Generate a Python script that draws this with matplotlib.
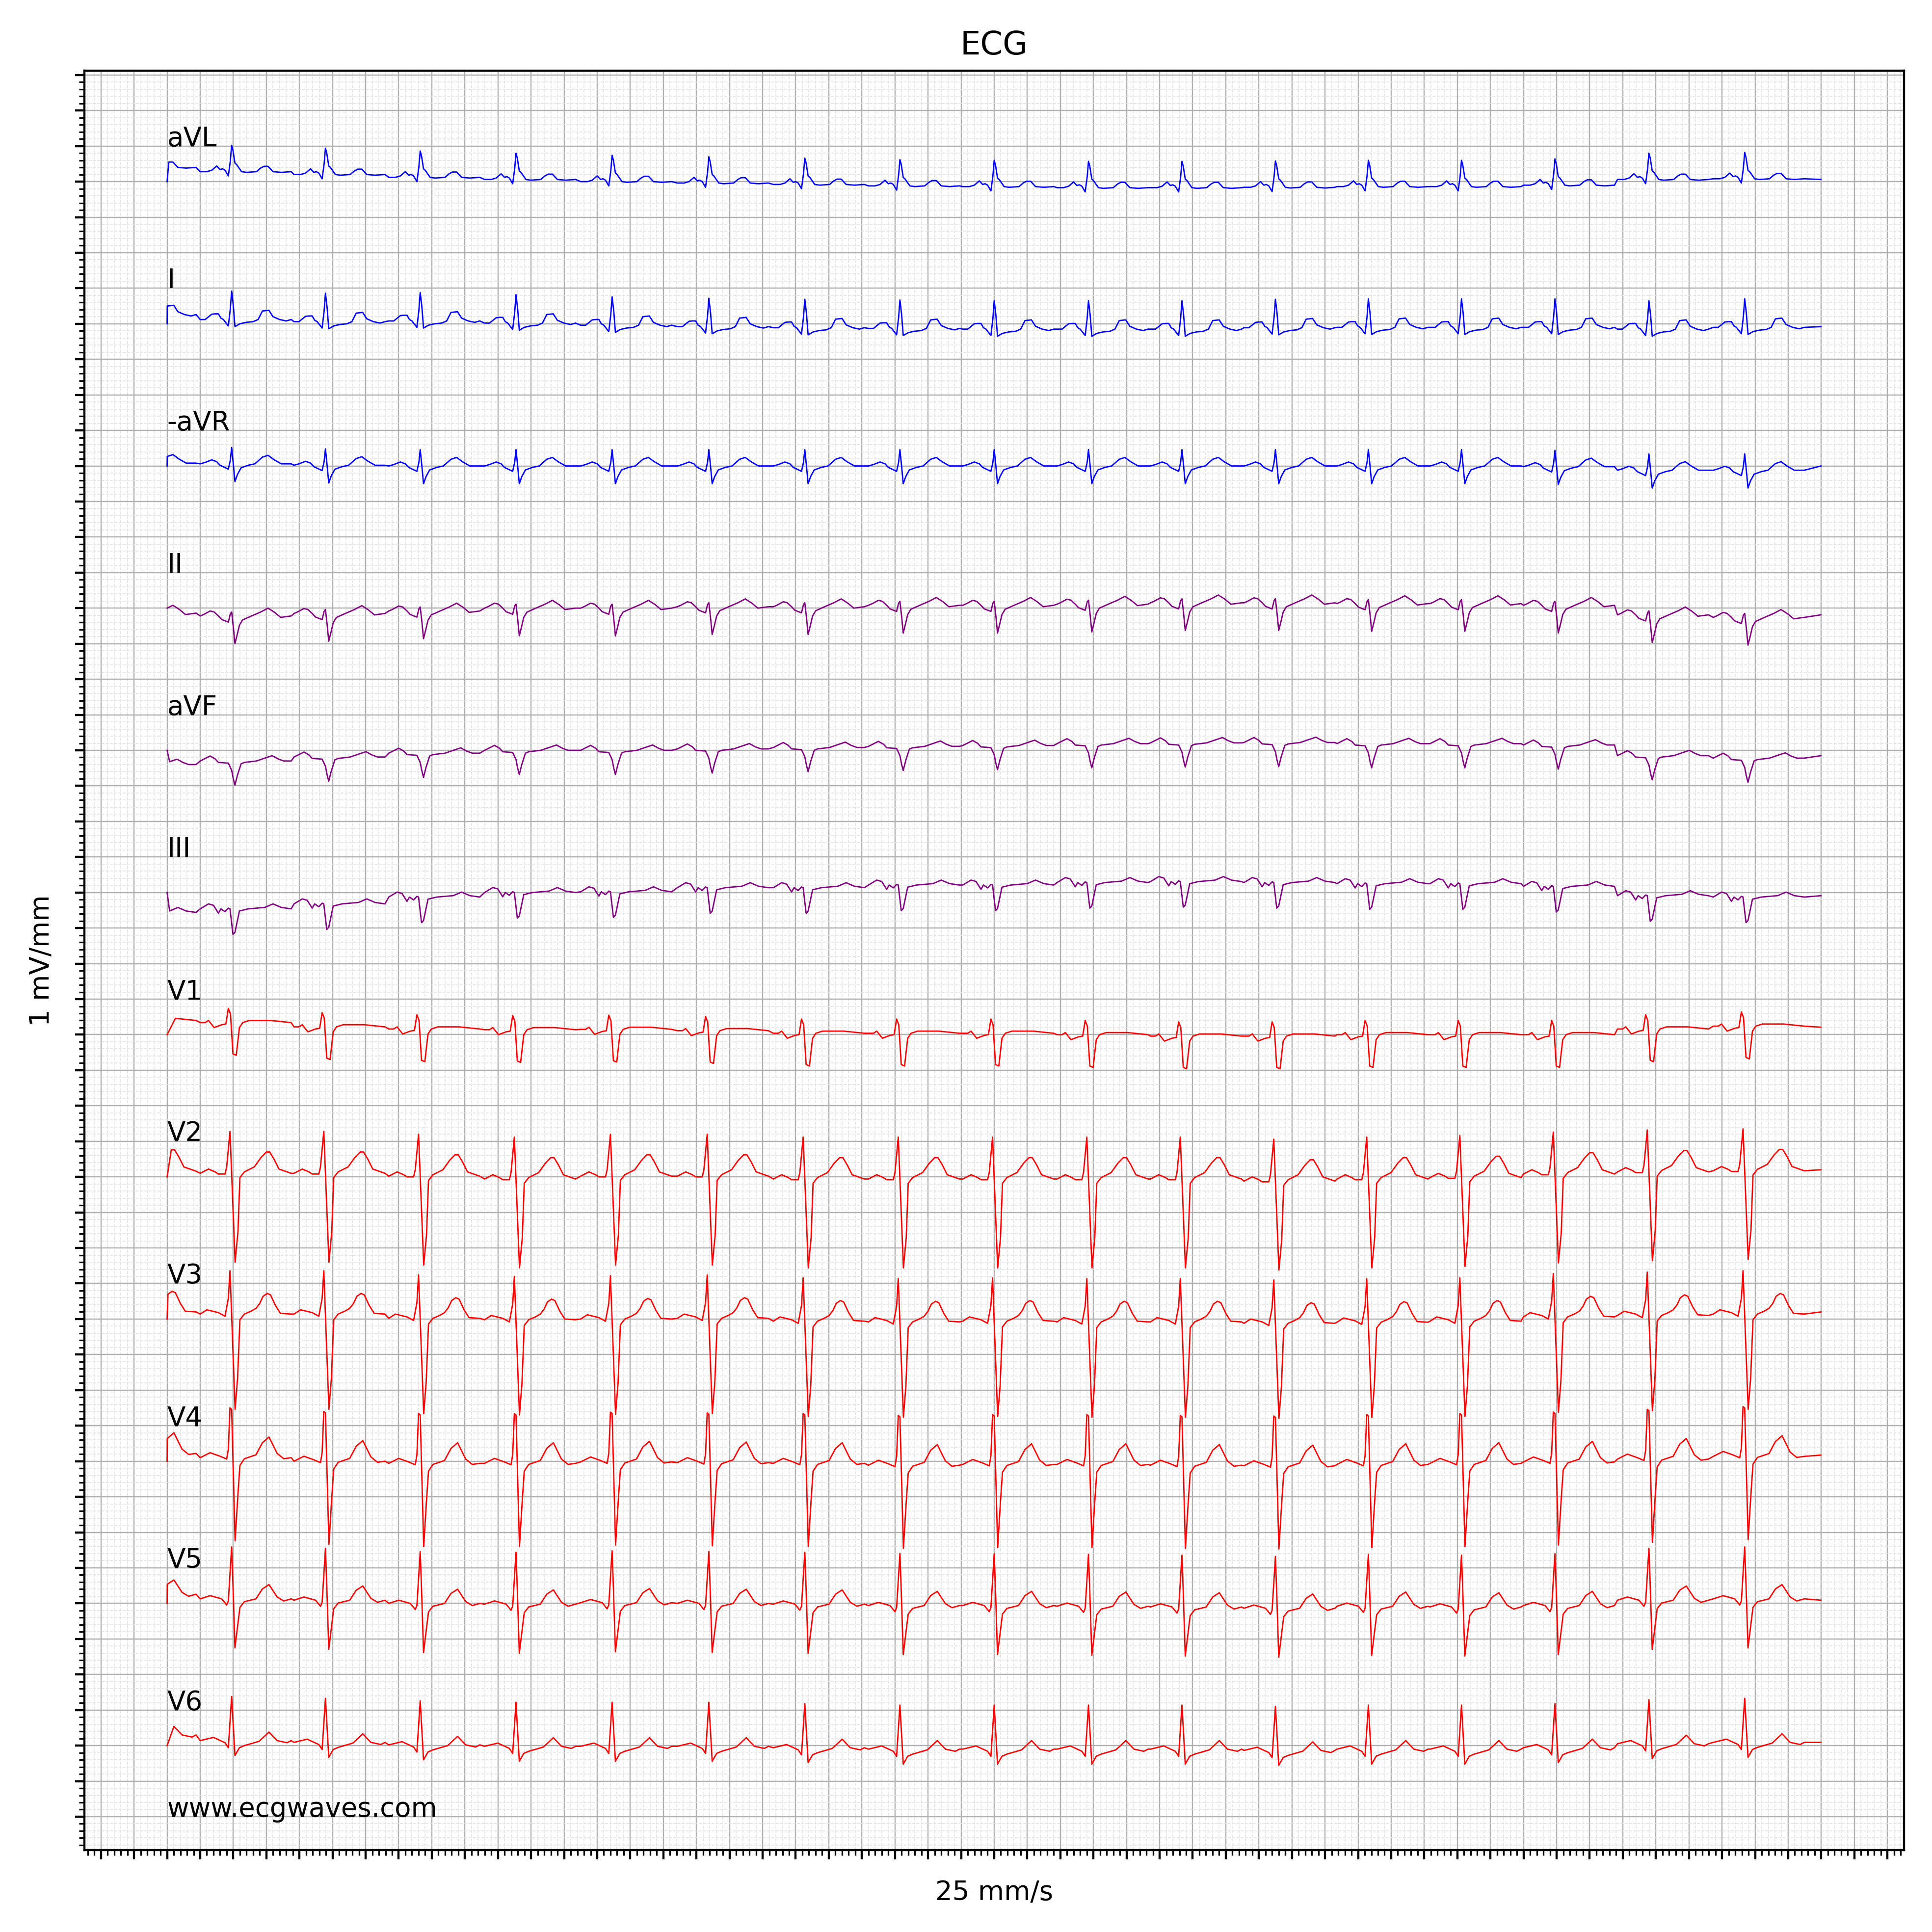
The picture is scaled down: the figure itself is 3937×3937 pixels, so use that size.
import numpy as np
import matplotlib.pyplot as plt
from matplotlib.ticker import MultipleLocator, NullFormatter

# R peak times in seconds (first beat is cut by the left edge)
r_times = [-0.185, 0.39, 0.957, 1.53, 2.109, 2.69, 3.275, 3.855, 4.43, 5.0,
           5.57, 6.135, 6.70, 7.262, 7.825, 8.39, 8.958, 9.537]
t_end = 9.998

lead_names = ['aVL', 'I', '-aVR', 'II', 'aVF', 'III',
              'V1', 'V2', 'V3', 'V4', 'V5', 'V6']
lead_colors = ['blue'] * 3 + ['purple'] * 3 + ['red'] * 6

# one beat per lead: (time from R peak [s], amplitude [mV])
beat_avl = [(-0.19, 0.0), (-0.15, 0.0), (-0.12, 0.02), (-0.09, 0.08), (-0.07, 0.03),
            (-0.055, 0.04), (-0.04, 0.02), (-0.02, -0.06), (-0.008, 0.15), (0.0, 0.37),
            (0.008, 0.30), (0.02, 0.12), (0.03, 0.10), (0.06, 0.0), (0.09, -0.01),
            (0.15, 0.0), (0.175, 0.05), (0.195, 0.075), (0.22, 0.075), (0.25, 0.0),
            (0.30, -0.01), (0.36, 0.0)]
beat_i = [(-0.19, 0.0), (-0.16, 0.0), (-0.12, 0.075), (-0.10, 0.08), (-0.08, 0.08),
          (-0.065, 0.02), (-0.05, 0.0), (-0.02, -0.09), (-0.008, 0.15), (0.0, 0.40),
          (0.01, 0.2), (0.02, -0.1), (0.05, -0.06), (0.087, -0.04), (0.13, -0.03),
          (0.16, 0.0), (0.186, 0.12), (0.225, 0.13), (0.25, 0.04), (0.29, 0.0),
          (0.33, -0.02), (0.36, 0.0)]
beat_mavr = [(-0.19, 0.0), (-0.16, 0.02), (-0.12, 0.056), (-0.09, 0.03), (-0.07, -0.02),
             (-0.02, -0.075), (-0.008, 0.05), (0.0, 0.23), (0.01, 0.0), (0.02, -0.25),
             (0.035, -0.15), (0.057, -0.056), (0.1, -0.02), (0.14, 0.0), (0.186, 0.094),
             (0.22, 0.12), (0.255, 0.06), (0.30, 0.0), (0.36, 0.0)]
beat_ii = [(-0.19, 0.0), (-0.17, 0.02), (-0.13, 0.07), (-0.106, 0.056), (-0.08, 0.0),
           (-0.06, -0.05), (-0.02, -0.086), (-0.008, 0.03), (0.0, 0.056), (0.01, -0.15),
           (0.02, -0.39), (0.035, -0.25), (0.047, -0.13), (0.066, -0.056), (0.12, 0.0),
           (0.176, 0.056), (0.22, 0.11), (0.26, 0.05), (0.296, -0.02), (0.36, 0.0)]
beat_avf = [(-0.19, 0.0), (-0.13, 0.07), (-0.10, 0.03), (-0.08, -0.02), (-0.02, -0.03),
            (0.0, -0.13), (0.01, -0.25), (0.02, -0.34), (0.035, -0.2), (0.057, -0.04),
            (0.077, -0.02), (0.15, 0.0), (0.2, 0.04), (0.245, 0.075), (0.28, 0.03),
            (0.315, 0.0), (0.36, 0.0)]
beat_iii = [(-0.19, 0.0), (-0.14, 0.07), (-0.11, 0.05), (-0.08, -0.06), (-0.065, 0.0),
            (-0.04, -0.04), (-0.02, 0.01), (-0.01, 0.0), (0.008, -0.36), (0.02, -0.33),
            (0.047, -0.03), (0.1, 0.0), (0.2, 0.02), (0.25, 0.07), (0.30, 0.02), (0.36, 0.0)]
beat_v1 = [(-0.19, 0.0), (-0.16, 0.0), (-0.14, 0.03), (-0.106, -0.07), (-0.06, -0.03),
           (-0.035, -0.02), (-0.02, 0.2), (-0.007, 0.12), (0.008, -0.44), (0.028, -0.46),
           (0.047, -0.07), (0.067, 0.0), (0.107, 0.03), (0.235, 0.03), (0.36, 0.0)]
beat_v2 = [(-0.19, 0.0), (-0.14, 0.06), (-0.10, 0.02), (-0.08, -0.01), (-0.04, -0.01),
           (-0.03, 0.09), (-0.01, 0.59), (0.021, -1.25), (0.038, -0.83), (0.05, -0.06),
           (0.077, 0.02), (0.137, 0.09), (0.177, 0.22), (0.21, 0.3), (0.23, 0.3),
           (0.256, 0.2), (0.286, 0.06), (0.335, 0.02), (0.36, 0.0)]
beat_v3 = [(-0.19, 0.0), (-0.15, 0.06), (-0.08, 0.02), (-0.04, -0.03), (-0.02, 0.22),
           (-0.01, 0.61), (0.021, -1.34), (0.036, -0.9), (0.05, -0.08), (0.077, 0.0),
           (0.117, 0.04), (0.147, 0.08), (0.17, 0.15), (0.19, 0.25), (0.215, 0.29),
           (0.235, 0.27), (0.265, 0.12), (0.295, 0.01), (0.36, 0.0)]
beat_v4 = [(-0.19, 0.0), (-0.13, 0.07), (-0.07, 0.02), (-0.03, -0.02), (-0.02, 0.12),
           (-0.01, 0.70), (0.0, 0.68), (0.021, -1.17), (0.038, -0.52), (0.05, -0.11),
           (0.077, -0.015), (0.147, 0.04), (0.186, 0.21), (0.226, 0.29), (0.275, 0.06),
           (0.315, -0.015), (0.36, 0.0)]
beat_v5 = [(-0.19, 0.0), (-0.13, 0.045), (-0.06, 0.0), (-0.03, -0.086), (-0.02, -0.03),
           (0.0, 0.73), (0.008, 0.2), (0.02, -0.69), (0.05, -0.12), (0.077, -0.04),
           (0.147, 0.0), (0.186, 0.14), (0.226, 0.2), (0.275, 0.026), (0.315, -0.03),
           (0.36, 0.0)]
beat_v6 = [(-0.19, 0.0), (-0.11, 0.045), (-0.04, -0.03), (-0.02, -0.1), (0.0, 0.62),
           (0.02, -0.21), (0.047, -0.1), (0.077, -0.07), (0.166, -0.01), (0.226, 0.12),
           (0.275, 0.0), (0.335, -0.03), (0.36, 0.0)]

# baseline level under each beat (18 beats) plus the level at the end of the strip
base_avl = [0.2, 0.14, 0.1, 0.06, 0.03, 0.0, -0.02, -0.04, -0.06, -0.07, -0.085, -0.085,
            -0.08, -0.07, -0.07, -0.05, 0.03, 0.04, 0.03]
base_i = [0.13, 0.06, 0.03, 0.04, 0.01, -0.02, -0.04, -0.055, -0.065, -0.075, -0.075,
          -0.075, -0.055, -0.05, -0.05, -0.05, -0.075, -0.05, -0.04]
base_mavr = [0.04, 0.03, 0.01, 0.0, 0.0, 0.0, 0.0, 0.0, 0.0, 0.0, 0.0, 0.0, 0.0, 0.0,
             0.0, -0.01, -0.06, -0.06, 0.0]
base_ii = [-0.07, -0.11, -0.075, -0.04, 0.0, 0.0, 0.02, 0.02, 0.04, 0.04, 0.056, 0.075,
           0.075, 0.064, 0.064, 0.04, -0.094, -0.13, -0.094]
base_avf = [-0.2, -0.15, -0.094, -0.04, 0.0, 0.0, 0.02, 0.04, 0.056, 0.068, 0.094, 0.105,
            0.11, 0.094, 0.094, 0.075, -0.075, -0.11, -0.075]
base_iii = [-0.28, -0.23, -0.16, -0.064, 0.0, 0.01, 0.068, 0.068, 0.105, 0.105, 0.14,
            0.154, 0.14, 0.124, 0.124, 0.086, -0.045, -0.064, -0.045]
base_v1 = [0.2, 0.17, 0.11, 0.08, 0.07, 0.075, 0.056, 0.02, 0.02, 0.02, 0.0, -0.02,
           -0.02, 0.0, 0.0, 0.0, 0.08, 0.12, 0.105]
base_v2 = [0.08, 0.05, 0.05, 0.01, -0.03, 0.01, 0.01, -0.03, -0.03, -0.03, -0.03, -0.03,
           -0.06, -0.03, -0.01, 0.04, 0.07, 0.086, 0.1]
base_v3 = [0.1, 0.07, 0.07, 0.01, -0.01, 0.0, 0.01, -0.03, -0.04, -0.03, -0.04, -0.04,
           -0.06, -0.045, -0.03, 0.03, 0.05, 0.07, 0.1]
base_v4 = [0.11, 0.05, 0.0, -0.03, -0.03, -0.01, -0.02, -0.03, -0.056, -0.045, -0.045,
           -0.056, -0.064, -0.045, -0.03, -0.01, 0.03, 0.068, 0.086]
base_v5 = [0.13, 0.064, 0.045, 0.0, -0.01, 0.01, 0.0, -0.01, -0.03, -0.03, -0.04, -0.05,
           -0.068, -0.04, -0.05, -0.03, 0.045, 0.064, 0.045]
base_v6 = [0.15, 0.07, 0.045, 0.01, -0.01, -0.01, -0.01, -0.03, -0.05, -0.05, -0.05,
           -0.05, -0.068, -0.05, -0.05, -0.03, 0.026, 0.045, 0.045]

beats = [beat_avl, beat_i, beat_mavr, beat_ii, beat_avf, beat_iii,
         beat_v1, beat_v2, beat_v3, beat_v4, beat_v5, beat_v6]
bases = [base_avl, base_i, base_mavr, base_ii, base_avf, base_iii,
         base_v1, base_v2, base_v3, base_v4, base_v5, base_v6]


def lead_trace(beat, base):
    xs, ys = [0.0], [0.0]
    for r, b in zip(r_times, base[:-1]):
        for dt, v in beat:
            if r + dt > 0:
                xs.append(r + dt)
                ys.append(b + v)
    xs.append(t_end)
    ys.append(base[-1])
    return np.array(xs), np.array(ys)


fig, ax = plt.subplots(figsize=(10, 10))
fig.subplots_adjust(left=0.0437, right=0.9855, bottom=0.0424, top=0.9634)

for i, name in enumerate(lead_names):
    offset = -2 * i
    x, y = lead_trace(beats[i], bases[i])
    ax.plot(x, y + offset, color=lead_colors[i], linewidth=0.5)
    ax.text(0, offset + 0.5, name, fontsize=10)

ax.text(0, -23, 'www.ecgwaves.com', fontsize=10)

ax.set_xlim(-0.5, 10.5)
ax.set_ylim(-23.47, 1.56)
ax.xaxis.set_major_locator(MultipleLocator(0.2))
ax.xaxis.set_minor_locator(MultipleLocator(0.04))
ax.yaxis.set_major_locator(MultipleLocator(0.5))
ax.yaxis.set_minor_locator(MultipleLocator(0.1))
ax.xaxis.set_major_formatter(NullFormatter())
ax.yaxis.set_major_formatter(NullFormatter())

ax.grid(which='major', color='#b0b0b0', linewidth=0.45)
ax.grid(which='minor', color='#e3e3e3', linewidth=0.3, linestyle='--')

ax.set_title('ECG')
ax.set_xlabel('25 mm/s')
ax.set_ylabel('1 mV/mm')

fig.savefig('out.png', dpi=393.7)
